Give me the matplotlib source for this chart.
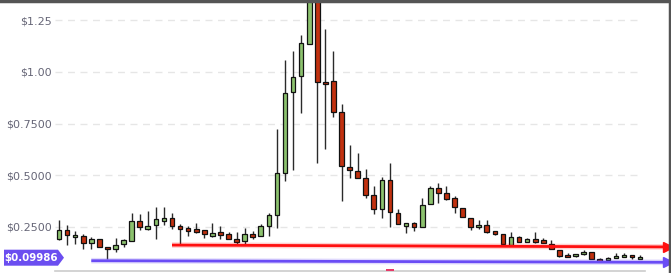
import numpy as np
import matplotlib
matplotlib.use("Agg")
import matplotlib.pyplot as plt
from matplotlib.patches import Rectangle, Polygon
from matplotlib.lines import Line2D

# OHLC readings, one candle per period, left to right
opens = [0.190, 0.234, 0.200, 0.205, 0.171, 0.190, 0.152, 0.142, 0.166, 0.181,
         0.278, 0.239, 0.258, 0.278, 0.292, 0.254, 0.244, 0.239, 0.234, 0.205,
         0.224, 0.215, 0.190, 0.181, 0.215, 0.205, 0.254, 0.307, 0.510, 0.903,
         0.980, 1.135, 1.400, 0.951, 0.956, 0.806, 0.539, 0.520, 0.486, 0.404,
         0.336, 0.476, 0.316, 0.254, 0.268, 0.249, 0.360, 0.438, 0.413, 0.389,
         0.341, 0.292, 0.249, 0.258, 0.229, 0.215, 0.161, 0.200, 0.176, 0.190,
         0.186, 0.166, 0.137, 0.113, 0.108, 0.118, 0.127, 0.094, 0.089, 0.098,
         0.103, 0.113, 0.094]
highs = [0.283, 0.258, 0.229, 0.215, 0.200, 0.190, 0.152, 0.195, 0.190, 0.316,
         0.312, 0.326, 0.346, 0.346, 0.316, 0.263, 0.254, 0.268, 0.234, 0.268,
         0.254, 0.224, 0.224, 0.244, 0.229, 0.263, 0.316, 0.723, 1.058, 1.101,
         1.179, 1.460, 1.450, 1.208, 1.101, 0.845, 0.646, 0.607, 0.530, 0.447,
         0.491, 0.559, 0.336, 0.268, 0.273, 0.389, 0.447, 0.462, 0.447, 0.399,
         0.341, 0.292, 0.283, 0.283, 0.229, 0.215, 0.224, 0.205, 0.195, 0.224,
         0.195, 0.186, 0.137, 0.123, 0.118, 0.137, 0.127, 0.098, 0.103, 0.123,
         0.123, 0.113, 0.113]
lows = [0.186, 0.161, 0.166, 0.142, 0.142, 0.152, 0.094, 0.127, 0.152, 0.181,
        0.234, 0.234, 0.190, 0.258, 0.239, 0.166, 0.205, 0.220, 0.195, 0.200,
        0.190, 0.190, 0.166, 0.166, 0.190, 0.205, 0.205, 0.244, 0.472, 0.525,
        0.801, 1.135, 0.559, 0.627, 0.782, 0.375, 0.486, 0.486, 0.389, 0.312,
        0.292, 0.249, 0.263, 0.220, 0.229, 0.249, 0.360, 0.365, 0.379, 0.316,
        0.297, 0.234, 0.239, 0.220, 0.210, 0.166, 0.161, 0.176, 0.176, 0.171,
        0.171, 0.142, 0.103, 0.103, 0.103, 0.113, 0.094, 0.084, 0.089, 0.098,
        0.103, 0.094, 0.094]
closes = [0.234, 0.210, 0.210, 0.171, 0.190, 0.152, 0.142, 0.161, 0.186, 0.278,
          0.249, 0.254, 0.287, 0.292, 0.254, 0.239, 0.229, 0.224, 0.215, 0.220,
          0.210, 0.190, 0.176, 0.215, 0.200, 0.254, 0.307, 0.510, 0.898, 0.975,
          1.140, 1.400, 0.951, 0.941, 0.806, 0.544, 0.525, 0.486, 0.404, 0.336,
          0.476, 0.321, 0.263, 0.268, 0.249, 0.355, 0.438, 0.413, 0.384, 0.346,
          0.297, 0.249, 0.258, 0.224, 0.215, 0.166, 0.200, 0.176, 0.190, 0.176,
          0.171, 0.142, 0.108, 0.103, 0.118, 0.127, 0.094, 0.084, 0.098, 0.108,
          0.113, 0.103, 0.103]

tick_vals = [0.25, 0.50, 0.75, 1.00, 1.25]
tick_text = ["$0.2500", "$0.5000", "$0.7500", "$1.00", "$1.25"]

# support lines: (start index, start price, end index, end price)
red_line = (14, 0.161, 75.5, 0.152)
blue_line = (4, 0.0853, 75.5, 0.0775)
last_price = 0.09986
last_label = "$0.09986"
event_idx = 41

up_col = "#8cc26e"
down_col = "#c1310f"

fig = plt.figure(figsize=(6.71, 2.73), dpi=100)
ax = fig.add_axes([55 / 671, 2 / 273, 590 / 671, 270 / 273])
ax.set_xlim(-0.496, 72.6)
ax.set_ylim(0.0354, 1.3435)

x = np.arange(len(opens))
for i in x:
    o, h, l, c = opens[i], highs[i], lows[i], closes[i]
    col = up_col if c >= o else down_col
    ax.vlines(i, l, h, color="#2a2a2a", lw=1.0, zorder=2)
    lo = min(o, c)
    hgt = max(abs(c - o), 0.006)
    ax.add_patch(Rectangle((i - 0.29, lo), 0.58, hgt, facecolor=col,
                           edgecolor="#111111", lw=0.9, zorder=3))

for v in tick_vals:
    ax.hlines(v, -0.5, 72.1, colors="#e6e6e6", lw=1, linestyles=(0, (5, 4)), zorder=0)

ax.set_yticks(tick_vals)
ax.set_yticklabels(tick_text, color="#666677", fontsize=8)
ax.tick_params(axis="y", length=0, pad=2.5)
ax.set_xticks([])
for s in ["top", "right", "left"]:
    ax.spines[s].set_visible(False)
ax.spines["bottom"].set_color("#cccccc")
ax.spines["bottom"].set_linewidth(1.2)

# trend lines with arrows
for (x0, y0, x1, y1), col in [(red_line, "#ff1010"), (blue_line, "#6a4cf5")]:
    ax.plot([x0, x1], [y0, y1], color=col, lw=4, alpha=0.2, clip_on=False, zorder=4,
            solid_capstyle="butt")
    ax.plot([x0, x1], [y0, y1], color=col, lw=2, clip_on=False, zorder=5,
            solid_capstyle="butt")
    ax.plot([x1], [y1], marker=">", color=col, markersize=7, clip_on=False, zorder=5)

# event marker on the time axis
ax.add_patch(Rectangle((event_idx - 0.5, 0.0354), 1.0, 0.008, facecolor="#e83a68",
                       edgecolor="none", clip_on=False, zorder=6))

# last price tag
yd = ax.transData.transform((0, last_price))[1]
pts = [(4, yd - 8), (58, yd - 8), (64, yd), (58, yd + 8), (4, yd + 8)]
fig.patches.append(Polygon(pts, closed=True, transform=None, facecolor="#6b4ef0",
                           edgecolor="none", zorder=10))
yf = yd / fig.bbox.height
fig.text(31 / 671, yf, last_label, color="white", fontsize=7.4, fontweight="bold",
         ha="center", va="center", zorder=11)

# frame edges at top and right
fig.add_artist(Line2D([0, 1], [0.998, 0.998], color="#555555", lw=2.5,
                      transform=fig.transFigure))
fig.add_artist(Line2D([0.998, 0.998], [0, 1], color="#555555", lw=2.5,
                      transform=fig.transFigure))

fig.savefig("out.png", dpi=100)
